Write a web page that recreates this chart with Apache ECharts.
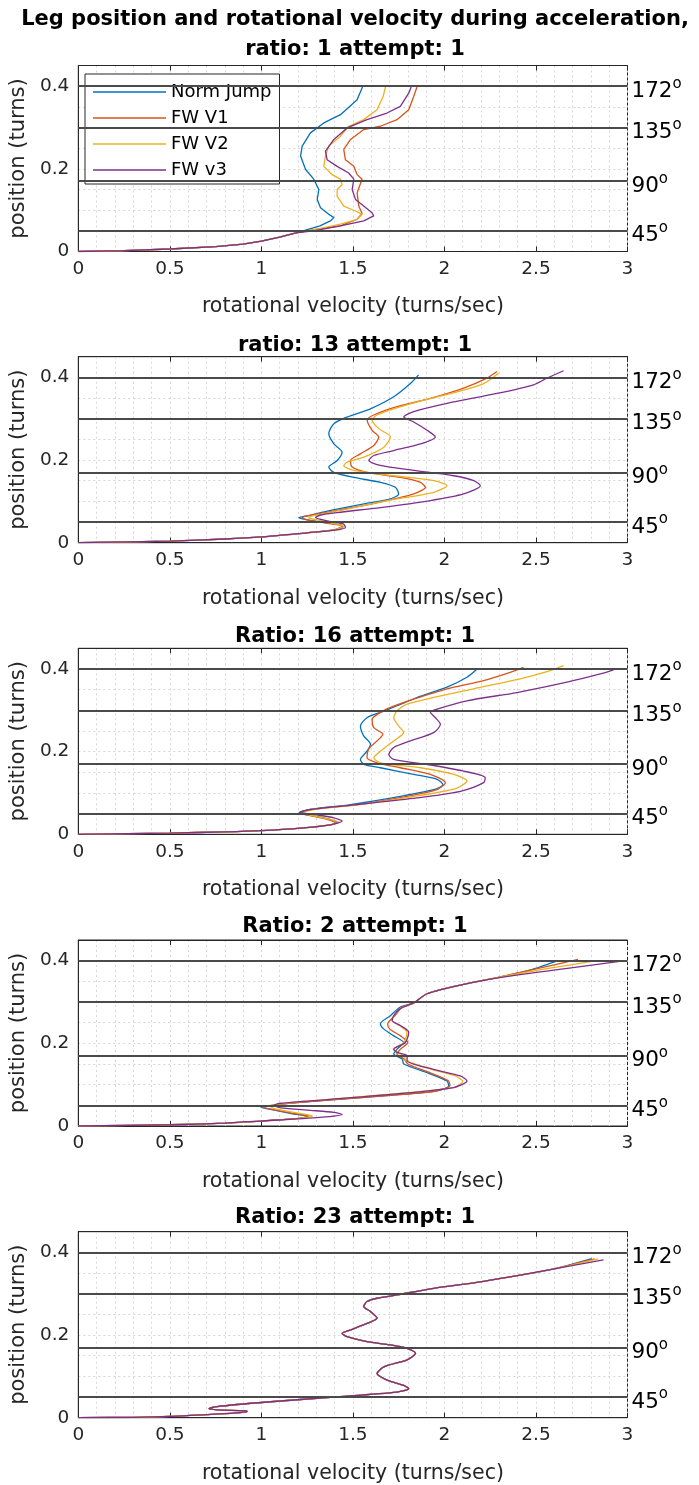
<!DOCTYPE html>
<html>
<head>
<meta charset="utf-8">
<script src="https://cdn.jsdelivr.net/npm/echarts@6/dist/echarts.min.js"></script>
<style>
  html, body { margin: 0; padding: 0; background: #fff; }
  #main { width: 699px; height: 1485px; }
</style>
</head>
<body>
<div id="main"></div>
<script>
// series names and colours (MATLAB default order)
var seriesNames = ['Norm Jump', 'FW V1', 'FW V2', 'FW v3'];
var colors = ['#0072BD', '#D95319', '#EDB120', '#7E2F8E'];

// subplot titles
var titles = [
  'Leg position and rotational velocity during acceleration,\nratio: 1 attempt: 1',
  'ratio: 13 attempt: 1',
  'Ratio: 16 attempt: 1',
  'Ratio: 2 attempt: 1',
  'Ratio: 23 attempt: 1'
];

// reference lines (turns) and their angle labels
var refLines = [0.05, 0.175, 0.3, 0.4];
var refLabels = ['45', '90', '135', '172'];
var yLabels = [0, 0.2, 0.4];

// ---- ratio 1 ----  [velocity, position]
var low1 = [[0, 0], [0.25, 0.002], [0.5, 0.006], [0.75, 0.012], [0.9, 0.018], [1.0, 0.025], [1.1, 0.035], [1.2, 0.046]];
var r1_norm = [[1.26, 0.054], [1.32, 0.062], [1.377, 0.074], [1.396, 0.082], [1.368, 0.090], [1.323, 0.106], [1.305, 0.126], [1.314, 0.150], [1.286, 0.175], [1.241, 0.199], [1.214, 0.231], [1.223, 0.255], [1.268, 0.287], [1.341, 0.311], [1.432, 0.331], [1.523, 0.367], [1.554, 0.4]];
var r1_fw1 = [[1.305, 0.054], [1.432, 0.062], [1.523, 0.078], [1.550, 0.092], [1.532, 0.110], [1.523, 0.142], [1.550, 0.175], [1.523, 0.186], [1.505, 0.206], [1.459, 0.222], [1.450, 0.247], [1.487, 0.271], [1.559, 0.295], [1.650, 0.303], [1.741, 0.319], [1.805, 0.343], [1.832, 0.375], [1.850, 0.398]];
var r1_fw2 = [[1.305, 0.054], [1.432, 0.066], [1.523, 0.078], [1.550, 0.090], [1.514, 0.098], [1.450, 0.110], [1.414, 0.134], [1.414, 0.150], [1.441, 0.162], [1.432, 0.175], [1.386, 0.186], [1.341, 0.206], [1.350, 0.231], [1.368, 0.255], [1.432, 0.279], [1.477, 0.303], [1.559, 0.319], [1.632, 0.343], [1.665, 0.375], [1.679, 0.4]];
var r1_fw3 = [[1.286, 0.050], [1.432, 0.062], [1.559, 0.074], [1.614, 0.086], [1.604, 0.094], [1.559, 0.110], [1.514, 0.126], [1.496, 0.150], [1.505, 0.175], [1.477, 0.190], [1.414, 0.206], [1.359, 0.222], [1.350, 0.243], [1.396, 0.271], [1.468, 0.299], [1.577, 0.319], [1.686, 0.335], [1.759, 0.351], [1.805, 0.383], [1.818, 0.398]];

// ---- ratio 13 ----
var low2 = [[0, 0], [0.5, 0.004], [0.8, 0.009], [1.0, 0.014], [1.25, 0.024]];
var r13_norm = [[1.396, 0.031], [1.446, 0.038], [1.432, 0.043], [1.341, 0.049], [1.232, 0.057], [1.205, 0.061], [1.250, 0.065], [1.378, 0.078], [1.560, 0.094], [1.705, 0.106], [1.750, 0.118], [1.732, 0.134], [1.650, 0.146], [1.505, 0.158], [1.396, 0.170], [1.368, 0.183], [1.414, 0.199], [1.441, 0.219], [1.396, 0.239], [1.368, 0.264], [1.396, 0.288], [1.468, 0.304], [1.596, 0.324], [1.723, 0.353], [1.814, 0.385], [1.859, 0.406]];
var r13_fw1 = [[1.396, 0.031], [1.441, 0.040], [1.359, 0.047], [1.250, 0.055], [1.223, 0.061], [1.250, 0.065], [1.414, 0.078], [1.650, 0.098], [1.832, 0.118], [1.896, 0.134], [1.869, 0.146], [1.760, 0.158], [1.578, 0.170], [1.496, 0.183], [1.487, 0.199], [1.541, 0.215], [1.614, 0.235], [1.641, 0.256], [1.605, 0.272], [1.578, 0.297], [1.614, 0.309], [1.741, 0.329], [1.923, 0.349], [2.105, 0.374], [2.232, 0.398], [2.287, 0.414]];
var r13_fw2 = [[1.400, 0.031], [1.450, 0.040], [1.396, 0.046], [1.305, 0.055], [1.259, 0.060], [1.277, 0.065], [1.432, 0.078], [1.687, 0.102], [1.941, 0.122], [2.014, 0.138], [1.941, 0.150], [1.723, 0.162], [1.505, 0.175], [1.450, 0.186], [1.468, 0.195], [1.560, 0.207], [1.669, 0.231], [1.705, 0.256], [1.641, 0.276], [1.605, 0.297], [1.632, 0.309], [1.723, 0.324], [1.887, 0.345], [2.069, 0.365], [2.214, 0.385], [2.296, 0.410]];
var r13_fw3 = [[1.396, 0.030], [1.459, 0.037], [1.450, 0.045], [1.359, 0.053], [1.296, 0.061], [1.323, 0.067], [1.414, 0.073], [1.650, 0.085], [1.923, 0.102], [2.105, 0.118], [2.196, 0.138], [2.160, 0.150], [2.051, 0.162], [1.832, 0.175], [1.650, 0.187], [1.587, 0.199], [1.614, 0.211], [1.723, 0.223], [1.869, 0.239], [1.950, 0.256], [1.905, 0.272], [1.832, 0.292], [1.778, 0.304], [1.832, 0.317], [2.014, 0.337], [2.287, 0.361], [2.487, 0.382], [2.560, 0.398], [2.651, 0.416]];

// ---- ratio 16 ----
var low3 = [[0, 0], [0.5, 0.003], [0.8, 0.006], [1.0, 0.009], [1.214, 0.015], [1.377, 0.023]];
var r16_norm = [[1.414, 0.029], [1.341, 0.040], [1.232, 0.048], [1.205, 0.052], [1.268, 0.060], [1.487, 0.072], [1.759, 0.092], [1.941, 0.108], [1.992, 0.120], [1.960, 0.133], [1.832, 0.145], [1.650, 0.161], [1.559, 0.169], [1.541, 0.181], [1.577, 0.201], [1.596, 0.218], [1.559, 0.238], [1.541, 0.262], [1.577, 0.282], [1.650, 0.295], [1.741, 0.311], [1.850, 0.331], [2.014, 0.356], [2.123, 0.380], [2.174, 0.398]];
var r16_fw1 = [[1.405, 0.027], [1.359, 0.036], [1.268, 0.045], [1.214, 0.052], [1.268, 0.060], [1.523, 0.072], [1.796, 0.092], [1.960, 0.108], [2.005, 0.125], [1.923, 0.145], [1.759, 0.161], [1.632, 0.173], [1.577, 0.185], [1.586, 0.206], [1.632, 0.226], [1.664, 0.242], [1.614, 0.258], [1.605, 0.278], [1.650, 0.295], [1.705, 0.307], [1.832, 0.327], [2.014, 0.352], [2.214, 0.372], [2.359, 0.392], [2.432, 0.404]];
var r16_fw2 = [[1.423, 0.029], [1.377, 0.036], [1.277, 0.045], [1.223, 0.052], [1.286, 0.060], [1.541, 0.072], [1.869, 0.094], [2.069, 0.112], [2.123, 0.129], [2.051, 0.145], [1.869, 0.161], [1.650, 0.173], [1.614, 0.185], [1.650, 0.201], [1.723, 0.226], [1.778, 0.246], [1.750, 0.262], [1.723, 0.282], [1.741, 0.299], [1.796, 0.315], [1.941, 0.331], [2.159, 0.352], [2.414, 0.376], [2.578, 0.396], [2.651, 0.408]];
var r16_fw3 = [[1.441, 0.032], [1.396, 0.040], [1.286, 0.048], [1.214, 0.053], [1.268, 0.060], [1.523, 0.072], [1.850, 0.088], [2.087, 0.104], [2.214, 0.125], [2.223, 0.137], [2.105, 0.153], [1.905, 0.169], [1.723, 0.181], [1.696, 0.193], [1.723, 0.210], [1.814, 0.226], [1.941, 0.246], [1.978, 0.266], [1.951, 0.282], [1.923, 0.295], [1.960, 0.303], [2.123, 0.323], [2.396, 0.343], [2.669, 0.368], [2.851, 0.388], [2.924, 0.398]];

// ---- ratio 2 ----
var low4 = [[0, 0], [0.5, 0.003], [0.8, 0.007], [0.995, 0.012]];
var r2_norm = [[1.214, 0.019], [1.255, 0.024], [1.177, 0.029], [1.050, 0.040], [0.995, 0.046], [1.077, 0.051], [1.177, 0.056], [1.541, 0.069], [1.941, 0.084], [2.023, 0.097], [2.014, 0.109], [1.905, 0.129], [1.778, 0.150], [1.769, 0.162], [1.723, 0.174], [1.741, 0.186], [1.777, 0.202], [1.723, 0.218], [1.668, 0.235], [1.650, 0.247], [1.705, 0.267], [1.759, 0.288], [1.832, 0.298], [1.905, 0.320], [2.087, 0.341], [2.268, 0.357], [2.450, 0.375], [2.614, 0.399]];
var r2_fw1 = [[1.220, 0.019], [1.260, 0.024], [1.180, 0.030], [1.060, 0.040], [1.005, 0.046], [1.080, 0.051], [1.180, 0.056], [1.550, 0.069], [1.950, 0.084], [2.030, 0.098], [2.020, 0.110], [1.920, 0.129], [1.800, 0.150], [1.780, 0.162], [1.740, 0.174], [1.760, 0.186], [1.800, 0.202], [1.760, 0.218], [1.700, 0.235], [1.690, 0.247], [1.730, 0.267], [1.770, 0.288], [1.835, 0.298], [1.905, 0.320], [2.087, 0.341], [2.268, 0.357], [2.500, 0.380], [2.730, 0.403]];
var r2_fw2 = [[1.200, 0.018], [1.280, 0.024], [1.200, 0.031], [1.070, 0.042], [1.050, 0.048], [1.100, 0.053], [1.300, 0.062], [1.700, 0.077], [2.050, 0.093], [2.100, 0.108], [2.060, 0.121], [1.930, 0.137], [1.790, 0.158], [1.780, 0.170], [1.740, 0.178], [1.720, 0.186], [1.780, 0.202], [1.795, 0.227], [1.755, 0.243], [1.715, 0.255], [1.725, 0.267], [1.760, 0.284], [1.835, 0.298], [1.905, 0.320], [2.087, 0.341], [2.300, 0.360], [2.550, 0.380], [2.814, 0.399]];
var r2_fw3 = [[1.320, 0.021], [1.441, 0.028], [1.396, 0.033], [1.268, 0.038], [1.105, 0.044], [1.068, 0.050], [1.105, 0.055], [1.359, 0.064], [1.723, 0.077], [2.051, 0.093], [2.123, 0.109], [2.087, 0.121], [1.941, 0.137], [1.796, 0.158], [1.796, 0.170], [1.741, 0.178], [1.723, 0.186], [1.787, 0.202], [1.805, 0.227], [1.759, 0.243], [1.714, 0.255], [1.723, 0.267], [1.759, 0.284], [1.832, 0.298], [1.905, 0.320], [2.087, 0.341], [2.320, 0.360], [2.650, 0.380], [2.987, 0.400]];

// ---- ratio 23 ----
var low5 = [[0, 0], [0.3, 0.001], [0.499, 0.003], [0.668, 0.007], [0.850, 0.011]];
var mid5 = [[0.923, 0.015], [0.905, 0.017], [0.759, 0.019], [0.714, 0.022], [0.759, 0.027], [1.032, 0.038], [1.396, 0.050], [1.741, 0.062], [1.805, 0.070], [1.778, 0.078], [1.687, 0.091], [1.632, 0.107], [1.669, 0.123], [1.796, 0.140], [1.842, 0.156], [1.796, 0.168], [1.705, 0.176], [1.577, 0.184], [1.468, 0.196], [1.441, 0.204], [1.486, 0.212], [1.577, 0.228], [1.632, 0.241], [1.596, 0.257], [1.559, 0.269], [1.577, 0.281], [1.632, 0.289], [1.741, 0.297], [1.942, 0.313], [2.214, 0.330], [2.578, 0.358]];
var r23_norm = [[2.805, 0.385]];
var r23_fw1 = [[2.820, 0.384]];
var r23_fw2 = [[2.840, 0.384]];
var r23_fw3 = [[2.869, 0.382]];

var plots = [
  [low1.concat(r1_norm), low1.concat(r1_fw1), low1.concat(r1_fw2), low1.concat(r1_fw3)],
  [low2.concat(r13_norm), low2.concat(r13_fw1), low2.concat(r13_fw2), low2.concat(r13_fw3)],
  [low3.concat(r16_norm), low3.concat(r16_fw1), low3.concat(r16_fw2), low3.concat(r16_fw3)],
  [low4.concat(r2_norm), low4.concat(r2_fw1), low4.concat(r2_fw2), low4.concat(r2_fw3)],
  [low5.concat(mid5, r23_norm), low5.concat(mid5, r23_fw1), low5.concat(mid5, r23_fw2), low5.concat(mid5, r23_fw3)]
];

// layout of the five axes boxes
var gridTops = [65.5, 356.7, 648.3, 940, 1231.7];
var gridH = 186;
var titleTops = [0, 326, 617, 907, 1198];
var FONT = 'DejaVu Sans';
var TXT = '#262626';

var myChart = echarts.init(document.getElementById('main'), null, {renderer: 'canvas'});

var grid = [], xAxis = [], yAxis = [], series = [], title = [];

gridTops.forEach(function (top, i) {
  grid.push({left: 77.5, right: 71.5, top: top, height: gridH, show: true,
    borderColor: TXT, borderWidth: 1, backgroundColor: '#fff'});

  title.push({
    text: titles[i], left: 350, top: titleTops[i], textAlign: 'center',
    textStyle: {fontFamily: FONT, fontWeight: 'bold', fontSize: 21, color: '#000', lineHeight: 30}
  });

  var splitStyle = {color: '#d6d6d6', width: 1, type: [2, 3]};
  xAxis.push({
    gridIndex: i, type: 'value', min: 0, max: 3, interval: 0.5, position: 'bottom',
    name: 'rotational velocity (turns/sec)', nameLocation: 'middle', nameGap: 45,
    nameTextStyle: {fontFamily: FONT, fontSize: 20.5, color: TXT},
    axisLine: {show: true, lineStyle: {color: TXT}},
    axisTick: {show: true, inside: true, length: 5, lineStyle: {color: TXT}},
    axisLabel: {fontFamily: FONT, fontSize: 18.5, color: TXT, margin: 8},
    splitLine: {show: true, lineStyle: splitStyle},
    minorTick: {show: false, splitNumber: 5},
    minorSplitLine: {show: true, lineStyle: splitStyle}
  });
  // mirrored ticks on top
  xAxis.push({
    gridIndex: i, type: 'value', min: 0, max: 3, interval: 0.5, position: 'top',
    axisLine: {show: true, lineStyle: {color: TXT}},
    axisTick: {show: true, inside: true, length: 5, lineStyle: {color: TXT}},
    axisLabel: {show: false}, splitLine: {show: false}
  });
  yAxis.push({
    gridIndex: i, type: 'value', min: 0, max: 0.45, interval: 0.05,
    name: 'position (turns)', nameLocation: 'middle', nameGap: 47,
    nameTextStyle: {fontFamily: FONT, fontSize: 21, color: TXT},
    axisLine: {show: true, lineStyle: {color: TXT}},
    axisTick: {show: false},
    axisLabel: {fontFamily: FONT, fontSize: 18.5, color: TXT, margin: 9,
      formatter: function (v) {
        for (var k = 0; k < yLabels.length; k++) {
          if (Math.abs(v - yLabels[k]) < 1e-6) return String(yLabels[k]);
        }
        return '';
      }},
    splitLine: {show: true, lineStyle: splitStyle}
  });

  plots[i].forEach(function (d, j) {
    var s = {
      name: seriesNames[j], type: 'line', xAxisIndex: i * 2, yAxisIndex: i,
      data: d, symbol: 'none', smooth: i === 0 ? false : 0.25,
      lineStyle: {color: colors[j], width: 1.3}, itemStyle: {color: colors[j]},
      z: 3
    };
    if (j === 0) {
      s.markLine = {
        silent: true, symbol: 'none', animation: false,
        lineStyle: {color: '#4a4a4a', width: 2, type: 'solid'},
        label: {
          show: true, position: 'end', distance: 4, padding: [10, 0, 0, 0],
          formatter: function (p) {
            return '{n|' + refLabels[p.dataIndex] + '}{s|o}';
          },
          rich: {
            n: {fontFamily: FONT, fontSize: 21.5, color: '#000', lineHeight: 30},
            s: {fontFamily: FONT, fontSize: 15, color: '#000', lineHeight: 21, verticalAlign: 'top'}
          }
        },
        data: refLines.map(function (v) { return {yAxis: v}; })
      };
    }
    series.push(s);
  });
});

option = {
  animation: false,
  backgroundColor: '#fff',
  title: title,
  legend: {
    data: seriesNames, left: 85, top: 74, orient: 'vertical',
    icon: 'rect', itemWidth: 73, itemHeight: 1.5, itemGap: 8,
    padding: [9, 8, 5, 8],
    backgroundColor: '#fff', borderColor: TXT, borderWidth: 1, borderRadius: 0,
    textStyle: {fontFamily: FONT, fontSize: 18, color: '#000', lineHeight: 18}
  },
  grid: grid,
  xAxis: xAxis,
  yAxis: yAxis,
  series: series
};

myChart.setOption(option);
</script>
</body>
</html>
